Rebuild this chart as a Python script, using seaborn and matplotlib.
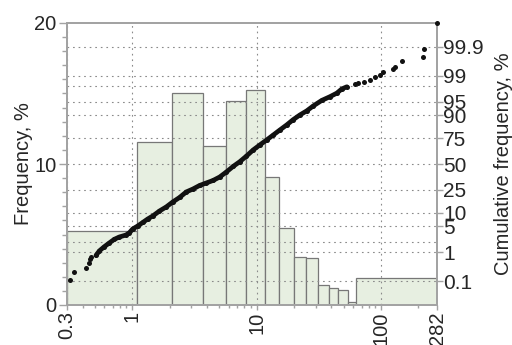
import numpy as np
import matplotlib
matplotlib.use('Agg')
import matplotlib.pyplot as plt
import seaborn as sns
from matplotlib.ticker import FixedLocator, NullFormatter, MultipleLocator
from statistics import NormalDist

sns.set_theme(style="ticks")
plt.rcParams['font.family'] = ['Liberation Sans', 'DejaVu Sans']

# histogram: bin edges (same units as x) and frequency in %
bin_edges = [0.3, 1.1, 2.08, 3.71, 5.73, 8.3, 11.6, 15.2, 19.9, 25.1, 31.2, 38.0, 45.5, 54.2, 63.1, 282]
freq_pct = [5.25, 11.55, 15.0, 11.3, 14.5, 15.25, 9.05, 5.45, 3.4, 3.3, 1.4, 1.2, 1.05, 0.2, 1.9]

# cumulative frequency points (x value, cumulative %)
cum_x = [0.318, 0.343, 0.43, 0.447, 0.461, 0.472, 0.513, 0.545, 0.598, 0.656, 0.72, 0.79,
         0.895, 0.951, 1.011, 1.11, 1.218, 1.336, 1.466, 1.661, 1.88, 2.126, 2.407, 2.726,
         3.082, 3.489, 3.953, 4.467, 5.058, 5.728, 6.477, 7.333, 8.307, 9.39, 10.63, 12.04,
         13.61, 15.41, 17.46, 19.74, 22.35, 25.3, 28.6, 33.44, 39.0, 44.2, 48.5, 53.2,
         62.0, 65.9, 73.3, 82.0, 89.9, 97.4, 103.8, 125, 130.4, 147.7, 218.2, 220.6, 282]
cum_pct = [0.113, 0.22, 0.31, 0.47, 0.61, 0.70, 0.80, 1.10, 1.47, 1.88, 2.37, 2.73,
           3.08, 3.52, 4.35, 5.13, 6.18, 7.38, 8.55, 10.8, 12.9, 15.9, 18.9, 23.1,
           25.5, 28.6, 30.9, 33.2, 36.6, 41.7, 47.4, 52.4, 58.3, 64.4, 69.2, 73.6,
           77.7, 81.5, 84.8, 87.9, 90.2, 91.9, 93.7, 95.3, 96.2, 96.9, 97.6, 97.9,
           98.2, 98.4, 98.5, 98.65, 98.88, 99.04, 99.21, 99.38, 99.48, 99.67, 99.76, 99.88, 99.99]

x_ticks = [0.3, 1, 10, 100, 282]
x_ticklabels = ['0.3', '1', '10', '100', '282']
prob_ticks = [0.1, 1, 5, 10, 25, 50, 75, 90, 95, 99, 99.9]
prob_ticklabels = ['0.1', '1', '5', '10', '25', '50', '75', '90', '95', '99', '99.9']
prob_grid_extra = [2, 98]

nd = NormalDist()
to_z = lambda p: nd.inv_cdf(p / 100.0)

edges = np.array(bin_edges)
mids = list(np.sqrt(edges[:-1] * edges[1:]))
log_bins = [float(v) for v in np.log10(edges)]

fig = plt.figure(figsize=(5.12, 3.45), dpi=100)
ax = fig.add_axes([67/512, 40/345, 370/512, 282/345])

sns.histplot(x=mids, weights=freq_pct, bins=log_bins, log_scale=True, ax=ax,
             color='#e7efe1', edgecolor='#777777', linewidth=0.9, alpha=1)

ax.set_xlim(0.3, 282)
ax.set_ylim(0, 20)
ax.set_xticks(x_ticks)
ax.set_xticklabels(x_ticklabels, rotation=90)
ax.xaxis.set_minor_formatter(NullFormatter())
ax.set_yticks([0, 10, 20])
ax.yaxis.set_minor_locator(MultipleLocator(1))
ax.set_axisbelow(False)
ax.grid(axis='x', which='major', color='#8a8a8a', linestyle=(0, (1.5, 3.5)), linewidth=0.8)
ax.set_xlabel('')
ax.set_ylabel('Frequency, %', fontsize=14.5, labelpad=1)

gray = '#a3a3a3'
ax.tick_params(axis='y', which='major', labelsize=14.5, color=gray, length=6, width=1, pad=1.5)
ax.tick_params(axis='y', which='minor', color=gray, length=3.5, width=1)
ax.tick_params(axis='x', which='major', labelsize=14.5, color=gray, length=3.5, width=1, pad=1)
ax.tick_params(axis='x', which='minor', color=gray, length=2.5, width=1)

# probability (cumulative) axis
ax2 = ax.twinx()
zlim = 3.713
ax2.set_ylim(-zlim, zlim)
ax2.yaxis.set_major_locator(FixedLocator([to_z(p) for p in prob_ticks]))
ax2.set_yticklabels(prob_ticklabels)
ax2.yaxis.set_minor_locator(FixedLocator([to_z(p) for p in prob_grid_extra]))
ax2.grid(axis='y', which='both', color='#8a8a8a', linestyle=(0, (1.5, 3.5)), linewidth=0.8)
ax2.tick_params(axis='y', which='major', labelsize=15, color=gray, length=4, width=1, pad=0.5)
ax2.tick_params(axis='y', which='minor', length=0)
ax2.set_ylabel('Cumulative frequency, %', fontsize=14.5, labelpad=7)

cum_z = [to_z(p) for p in cum_pct]
dense = [(x, z) for x, z in zip(cum_x, cum_z) if 0.5 < x < 55]
sns.lineplot(x=[d[0] for d in dense], y=[d[1] for d in dense], ax=ax2, color='#111111',
             linewidth=3.4, sort=False, estimator=None, solid_capstyle='round')
sns.scatterplot(x=cum_x, y=cum_z, ax=ax2, color='#111111', s=13, linewidth=0, clip_on=False, zorder=5)

for a in (ax, ax2):
    for s in a.spines.values():
        s.set_color(gray)
        s.set_linewidth(1.4)
    a.spines['top'].set_visible(True)
    a.spines['right'].set_visible(True)

fig.savefig('out.png', dpi=100)
